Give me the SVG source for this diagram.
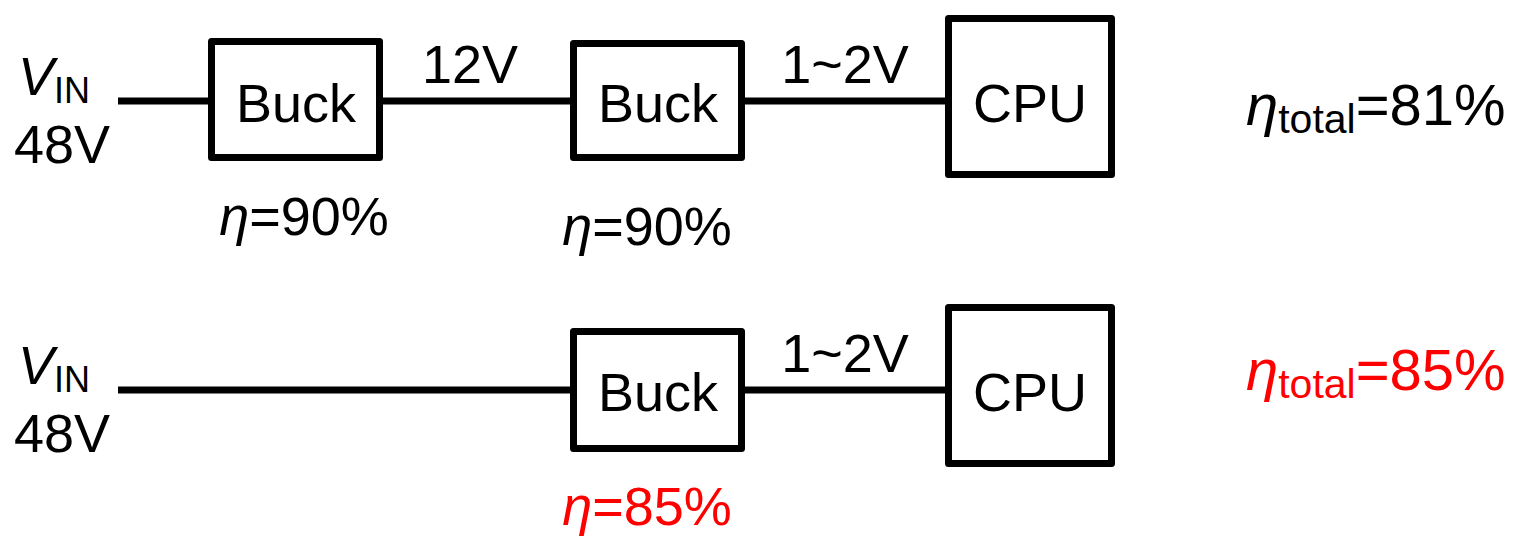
<svg xmlns="http://www.w3.org/2000/svg" width="1519" height="539" viewBox="0 0 1519 539">
<style>
text{font-family:"Liberation Sans",Arial,sans-serif;font-size:54px;fill:#000}
.red{fill:#ff0000}
.it{font-style:italic}
.sub{font-size:36px}
.big{font-size:58px}
.bigsub{font-size:41px}
.box{fill:#fff;stroke:#000;stroke-width:7;stroke-linejoin:round}
.wire{stroke:#000;stroke-width:7;fill:none}
</style>
<rect width="1519" height="539" fill="#fff"/>
<g id="connectors">
<line class="wire" x1="118" y1="101" x2="212" y2="101"/>
<line class="wire" x1="380" y1="101" x2="574" y2="101"/>
<line class="wire" x1="742" y1="101" x2="949" y2="101"/>
<line class="wire" x1="118" y1="390" x2="574" y2="390"/>
<line class="wire" x1="742" y1="390" x2="949" y2="390"/>
</g>
<g id="vin1"><text x="18" y="95"><tspan class="it">V</tspan><tspan class="sub" dy="8">IN</tspan></text><text x="14" y="163" font-size="56">48V</text></g>
<g id="buck1"><rect class="box" x="211.5" y="41.5" width="168" height="116"/><text x="296" y="122" text-anchor="middle">Buck</text></g>
<g id="label12v"><text x="470" y="83" text-anchor="middle">12V</text></g>
<g id="buck2"><rect class="box" x="573.5" y="43.5" width="168" height="114"/><text x="658" y="122" text-anchor="middle">Buck</text></g>
<g id="label12a"><text x="845" y="83" text-anchor="middle">1~2V</text></g>
<g id="cpu1"><rect class="box" x="948.5" y="18.5" width="163" height="156"/><text x="1030" y="122" text-anchor="middle">CPU</text></g>
<g id="eta1"><text x="304" y="235" text-anchor="middle"><tspan class="it">η</tspan>=90%</text></g>
<g id="eta2"><text x="647" y="245" text-anchor="middle"><tspan class="it">η</tspan>=90%</text></g>
<g id="etatotal1"><text x="1246" y="125" class="big"><tspan class="it">η</tspan><tspan class="bigsub" dy="8">total</tspan><tspan dy="-8">=81%</tspan></text></g>
<g id="vin2"><text x="18" y="384"><tspan class="it">V</tspan><tspan class="sub" dy="8">IN</tspan></text><text x="14" y="452" font-size="56">48V</text></g>
<g id="buck3"><rect class="box" x="573.5" y="331.5" width="168" height="117"/><text x="658" y="411" text-anchor="middle">Buck</text></g>
<g id="label12b"><text x="845" y="372" text-anchor="middle">1~2V</text></g>
<g id="cpu2"><rect class="box" x="948.5" y="307.5" width="163" height="156"/><text x="1030" y="411" text-anchor="middle">CPU</text></g>
<g id="eta3"><text x="647" y="525" text-anchor="middle" class="red"><tspan class="it">η</tspan>=85%</text></g>
<g id="etatotal2"><text x="1246" y="390" class="red big"><tspan class="it">η</tspan><tspan class="bigsub" dy="8">total</tspan><tspan dy="-8">=85%</tspan></text></g>
</svg>
